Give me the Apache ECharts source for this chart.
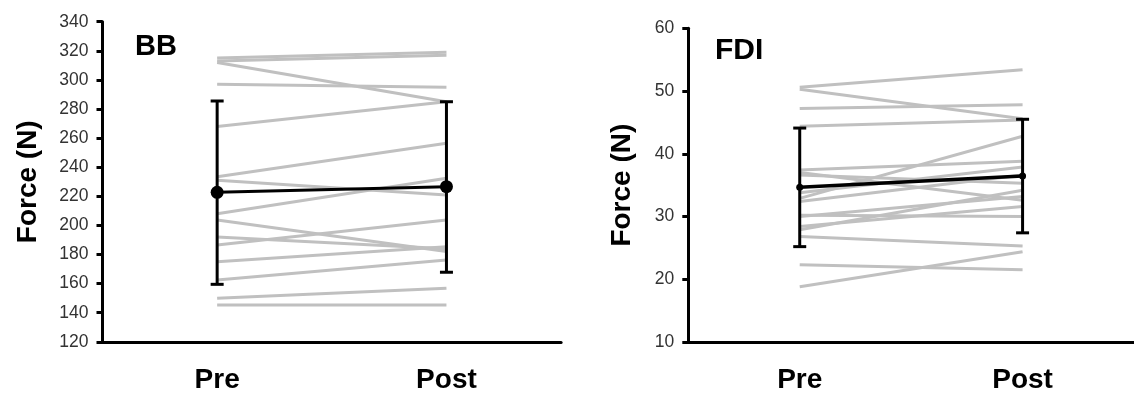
<!DOCTYPE html>
<html>
<head>
<meta charset="utf-8">
<script src="https://cdn.jsdelivr.net/npm/echarts@6/dist/echarts.min.js"></script>
<style>
html,body{margin:0;padding:0;background:#fff;}
#chart{width:1134px;height:396px;}
</style>
</head>
<body>
<div id="chart"></div>
<script>
// ---- data ----
const categories = ['Pre', 'Post'];

// BB panel: individual subjects (Pre, Post)
const bbPre  = [315, 313, 312, 297, 268, 233.5, 231, 208, 203.7, 192, 186.5, 175, 162.5, 150, 145.3];
const bbPost = [319, 317, 285, 295, 285, 256.4, 220.9, 232.4, 182, 184, 203.7, 185.4, 176.2, 156.8, 145.3];
const bbMean = [222.7, 226.6];
const bbErrLow  = [159.5, 167.8];
const bbErrHigh = [285.5, 285];
const bbTicks = [120, 140, 160, 180, 200, 220, 240, 260, 280, 300, 320, 340];

// FDI panel
const fdiPre  = [50.6, 50.3, 47.2, 44.4, 37.4, 37.0, 36.6, 33.8, 32.9, 32.4, 30.0, 30.2, 28.4, 27.9, 26.8, 22.3, 18.8];
const fdiPost = [53.4, 45.6, 47.8, 45.4, 38.8, 32.6, 35.3, 37.9, 42.8, 36.6, 33.2, 30.0, 31.6, 34.2, 25.3, 21.5, 24.4];
const fdiMean = [34.66, 36.45];
const fdiErrLow  = [25.2, 27.4];
const fdiErrHigh = [44.1, 45.5];
const fdiTicks = [10, 20, 30, 40, 50, 60];

// ---- chart ----
const FONT = 'Liberation Sans, Arial, sans-serif';
const GRAY = '#c0c0c0';

function subjectSeries(pre, post, idx) {
  return pre.map((p, i) => ({
    type: 'line', xAxisIndex: idx, yAxisIndex: idx,
    data: [p, post[i]], symbol: 'none', silent: true, z: 1,
    lineStyle: { color: GRAY, width: 3 }
  }));
}

function errSeries(low, high, idx) {
  return {
    type: 'custom', xAxisIndex: idx, yAxisIndex: idx, z: 4, silent: true,
    data: categories.map((c, i) => [i, low[i], high[i]]),
    renderItem: function (params, api) {
      const lo = api.coord([api.value(0), api.value(1)]);
      const hi = api.coord([api.value(0), api.value(2)]);
      const cap = 6.5;
      const st = { stroke: '#000', lineWidth: 3 };
      return {
        type: 'group',
        children: [
          { type: 'line', shape: { x1: lo[0], y1: lo[1], x2: hi[0], y2: hi[1] }, style: st },
          { type: 'line', shape: { x1: lo[0] - cap, y1: lo[1], x2: lo[0] + cap, y2: lo[1] }, style: st },
          { type: 'line', shape: { x1: hi[0] - cap, y1: hi[1], x2: hi[0] + cap, y2: hi[1] }, style: st }
        ]
      };
    }
  };
}

function xAxisDef(idx) {
  return {
    type: 'category', gridIndex: idx, data: categories, boundaryGap: true,
    axisLine: { lineStyle: { color: '#000', width: 3 } },
    axisTick: { alignWithLabel: true, length: 6, lineStyle: { color: '#000', width: 3 } },
    axisLabel: { color: '#000', fontFamily: FONT, fontWeight: 'bold', fontSize: 28, margin: 24 },
    splitLine: { show: false }
  };
}

function yAxisDef(idx, ticks, gap, interval) {
  return {
    type: 'value', gridIndex: idx,
    min: ticks[0], max: ticks[ticks.length - 1], interval: interval,
    name: 'Force (N)', nameLocation: 'middle', nameGap: gap, nameRotate: 90,
    nameTextStyle: { color: '#000', fontFamily: FONT, fontWeight: 'bold', fontSize: 28 },
    axisLine: { show: true, lineStyle: { color: '#000', width: 3 } },
    axisTick: { show: true, length: 6, lineStyle: { color: '#000', width: 3 } },
    axisLabel: { color: '#333', fontFamily: FONT, fontSize: 17.5, margin: 14 },
    splitLine: { show: false }
  };
}

const chart = echarts.init(document.getElementById('chart'), null, { renderer: 'canvas' });
const option = {
  backgroundColor: '#fff',
  animation: false,
  grid: [
    { left: 102.5, top: 21.7, width: 458.6, height: 320.1 },
    { left: 688.3, top: 28.3, width: 448.6, height: 313.7 }
  ],
  xAxis: [xAxisDef(0), xAxisDef(1)],
  yAxis: [yAxisDef(0, bbTicks, 60, 20), yAxisDef(1, fdiTicks, 52, 10)],
  graphic: [
    { type: 'text', left: 135, top: 32, style: { text: 'BB', font: 'bold 29px ' + FONT, fill: '#000' } },
    { type: 'text', left: 715, top: 36, style: { text: 'FDI', font: 'bold 30px ' + FONT, fill: '#000' } }
  ],
  series: [
    ...subjectSeries(bbPre, bbPost, 0),
    ...subjectSeries(fdiPre, fdiPost, 1),
    errSeries(bbErrLow, bbErrHigh, 0),
    errSeries(fdiErrLow, fdiErrHigh, 1),
    {
      type: 'line', xAxisIndex: 0, yAxisIndex: 0, data: bbMean, z: 5,
      symbol: 'circle', symbolSize: 13, itemStyle: { color: '#000' },
      lineStyle: { color: '#000', width: 3 }
    },
    {
      type: 'line', xAxisIndex: 1, yAxisIndex: 1, data: fdiMean, z: 5,
      symbol: 'circle', symbolSize: 7, itemStyle: { color: '#000' },
      lineStyle: { color: '#000', width: 3.5 }
    }
  ]
};
chart.setOption(option);
</script>
</body>
</html>
